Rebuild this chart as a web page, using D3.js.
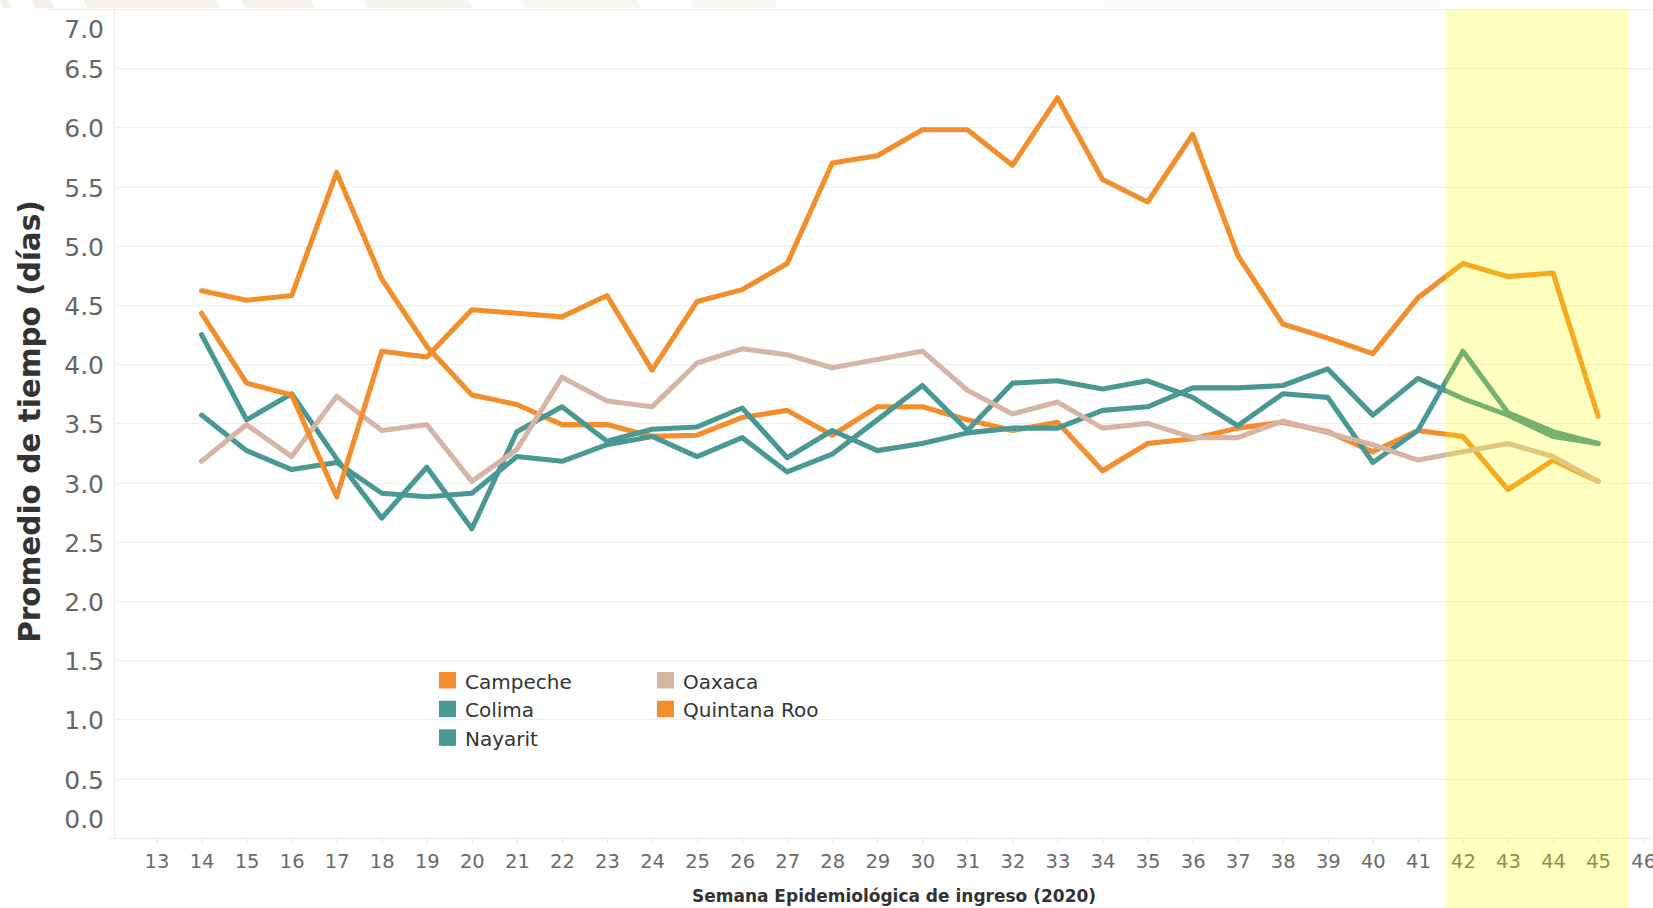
<!DOCTYPE html>
<html><head><meta charset="utf-8">
<script src="https://cdn.jsdelivr.net/npm/d3@7"></script>
<style>html,body{margin:0;padding:0;background:#fff;overflow:hidden}</style>
</head><body><svg id="c" width="1653" height="908"></svg>
<script>
// ---------- data ----------
const weeks = [14,15,16,17,18,19,20,21,22,23,24,25,26,27,28,29,30,31,32,33,34,35,36,37,38,39,40,41,42,43,44,45];
const tickWeeks = [13,14,15,16,17,18,19,20,21,22,23,24,25,26,27,28,29,30,31,32,33,34,35,36,37,38,39,40,41,42,43,44,45,46];
const yTicks = [0,0.5,1,1.5,2,2.5,3,3.5,4,4.5,5,5.5,6,6.5,7];
const campeche    = [4.62,4.54,4.58,5.62,4.72,4.15,3.74,3.66,3.49,3.49,3.39,3.40,3.55,3.61,3.40,3.64,3.64,3.53,3.44,3.51,3.10,3.33,3.37,3.46,3.51,3.43,3.26,3.44,3.39,2.94,3.19,3.01];
const colima      = [4.25,3.53,3.75,3.20,2.70,3.13,2.61,3.43,3.64,3.35,3.45,3.47,3.63,3.21,3.44,3.27,3.33,3.42,3.46,3.46,3.61,3.64,3.80,3.80,3.82,3.96,3.57,3.88,3.71,3.57,3.39,3.33];
const nayarit     = [3.57,3.27,3.11,3.17,2.91,2.88,2.91,3.22,3.18,3.32,3.39,3.22,3.38,3.09,3.24,3.53,3.82,3.44,3.84,3.86,3.79,3.86,3.72,3.48,3.75,3.72,3.17,3.44,4.11,3.59,3.43,3.33];
const oaxaca      = [3.18,3.49,3.22,3.73,3.44,3.49,3.01,3.28,3.89,3.69,3.64,4.01,4.13,4.08,3.97,4.04,4.11,3.78,3.58,3.68,3.46,3.50,3.38,3.38,3.52,3.42,3.32,3.19,3.26,3.33,3.22,3.01];
const quintanaRoo = [4.43,3.84,3.74,2.88,4.11,4.06,4.46,4.43,4.40,4.58,3.95,4.53,4.63,4.85,5.70,5.76,5.98,5.98,5.68,6.25,5.56,5.37,5.94,4.92,4.34,4.22,4.09,4.56,4.85,4.74,4.77,3.56];
const seriesNames  = ["Campeche","Colima","Nayarit","Oaxaca","Quintana Roo"];
const seriesColors = ["#F28E2B","#499894","#499894","#D7B5A6","#F28E2B"];
const highlightRange = [41.61, 45.68];
const xTitle = "Semana Epidemiológica de ingreso (2020)";
const yTitle = "Promedio de tiempo (días)";

const seriesValues = [campeche, colima, nayarit, oaxaca, quintanaRoo];
const series = seriesNames.map((n,i)=>({name:n,color:seriesColors[i],values:weeks.map((w,j)=>({w, v:seriesValues[i][j]}))}));

// ---------- layout ----------
const W = 1653, H = 908;
const svg = d3.select("#c");
svg.append("rect").attr("width",W).attr("height",H).attr("fill","#fff");

// faint decorative banner at top
const deco = [[0,8,0.9],[32,51,0.9],[84,216,0.8],[242,311,0.75],[364,469,0.6],[522,638,0.5],[690,775,0.4],[1102,1439,0.25]];
deco.forEach(d=>{
  svg.append("polygon")
    .attr("points",`${d[0]},0 ${d[1]},0 ${d[1]+3},8 ${d[0]+3},8`)
    .attr("fill","#f3eee2").attr("opacity",d[2]);
});

const x = d3.scaleLinear().domain([13,45]).range([156.5, 156.5+32*45.05]);
const y = d3.scaleLinear().domain([0,7]).range([837.8, 9]);
const axisX0 = 114;

// gridlines
svg.append("g").selectAll("line").data(yTicks.filter(t=>t>0)).join("line")
  .attr("x1",axisX0).attr("x2",W).attr("y1",d=>Math.round(y(d))+0.5).attr("y2",d=>Math.round(y(d))+0.5)
  .attr("stroke","#efefef").attr("stroke-width",1);
svg.append("line").attr("x1",47).attr("x2",axisX0).attr("y1",Math.round(y(7))+0.5).attr("y2",Math.round(y(7))+0.5)
  .attr("stroke","#ececec");
// y axis line
svg.append("line").attr("x1",axisX0+0.5).attr("x2",axisX0+0.5).attr("y1",y(7)).attr("y2",y(0))
  .attr("stroke","#ececec");

// x axis
const gx = svg.append("g").attr("transform",`translate(0,${Math.round(y(0))+0.5})`)
  .call(d3.axisBottom(x).tickValues(tickWeeks).tickSize(5).tickPadding(11).tickFormat(d3.format("d")));
gx.select(".domain").attr("d",`M108,0H${W}`).attr("stroke","#ebebeb");
gx.selectAll(".tick line").attr("stroke","#e6e6e6");
gx.selectAll(".tick text").attr("font-family","DejaVu Sans, sans-serif").attr("font-size","19.5px").attr("fill","#6a6a6a");

// y axis labels
const gy = svg.append("g").attr("transform",`translate(${axisX0},0)`)
  .call(d3.axisLeft(y).tickValues(yTicks).tickSize(0).tickPadding(10).tickFormat(d3.format(".1f")));
gy.select(".domain").remove();
gy.selectAll(".tick text").attr("font-family","DejaVu Sans, sans-serif").attr("font-size","25px").attr("fill","#666")
  .attr("transform",d=> d===7 ? "translate(0,20)" : d===0 ? "translate(0,-18)" : "translate(0,1.5)");

// axis titles
svg.append("text").attr("x",894).attr("y",902).attr("text-anchor","middle")
  .attr("font-family","DejaVu Sans, sans-serif").attr("font-weight","bold").attr("font-size","17px")
  .attr("fill","#333").text(xTitle);
svg.append("text").attr("transform","translate(40,421.5) rotate(-90)").attr("text-anchor","middle")
  .attr("font-family","DejaVu Sans, sans-serif").attr("font-weight","bold").attr("font-size","29.5px")
  .attr("fill","#333").text(yTitle);

// lines
const line = d3.line().x(d=>x(d.w)).y(d=>y(d.v));
svg.append("g").selectAll("path").data(series).join("path")
  .attr("d",d=>line(d.values)).attr("fill","none").attr("stroke",d=>d.color)
  .attr("stroke-width",5.1).attr("stroke-linejoin","round").attr("stroke-linecap","round");

// legend
const legPos = [[439,672],[439,700.7],[439,729.4],[657,672],[657,700.7]];
const leg = svg.append("g").selectAll("g").data(series).join("g")
  .attr("transform",(d,i)=>`translate(${legPos[i][0]},${legPos[i][1]})`);
leg.append("rect").attr("width",17).attr("height",16.5).attr("fill",d=>d.color);
leg.append("text").attr("x",26).attr("y",16.5).attr("font-family","DejaVu Sans, sans-serif")
  .attr("font-size","20px").attr("fill","#333").text(d=>d.name);

// highlight band (overlay)
svg.append("rect").attr("x",x(highlightRange[0])).attr("width",x(highlightRange[1])-x(highlightRange[0]))
  .attr("y",y(7)).attr("height",H-y(7)).attr("fill","#ffff00").attr("opacity",0.25);
</script></body></html>
